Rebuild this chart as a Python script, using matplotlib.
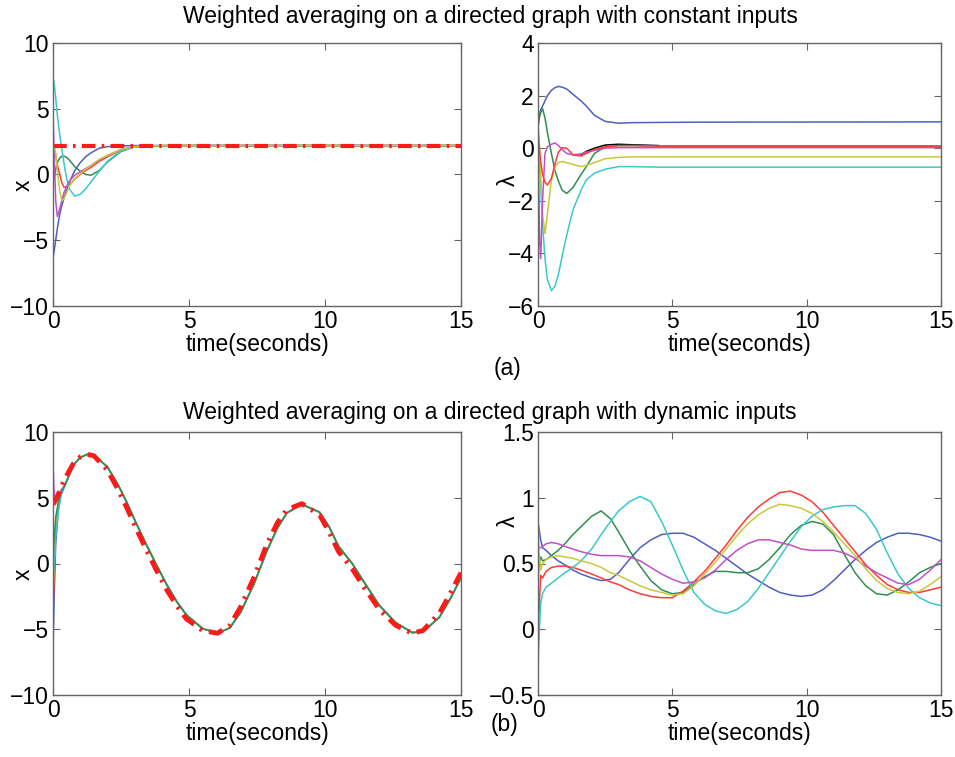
import matplotlib
matplotlib.use("Agg")
import matplotlib.pyplot as plt

plt.rcParams['font.family'] = ['Liberation Sans', 'DejaVu Sans']

# colours of the agents (old matlab default order, a bit washed out)
C_B = '#4f5fbf'
C_G = '#2f8f4f'
C_R = '#ff3b3b'
C_C = '#3cc8c8'
C_M = '#c050c8'
C_Y = '#c8c83c'

# (a) left: x with constant inputs
t_xa = [0, 0.05, 0.1, 0.16, 0.25, 0.32, 0.4, 0.5, 0.6, 0.8, 1.0, 1.2, 1.4, 1.7, 2.0, 2.5, 3.0, 3.5, 4.5, 15]
xa_b = [-6.4, -5.7, -5.0, -4.1, -3.0, -2.4, -1.8, -1.2, -0.6, 0.3, 0.9, 1.35, 1.65, 2.0, 2.12, 2.18, 2.2, 2.2, 2.2, 2.2]
xa_g = [-0.8, -0.2, 0.4, 0.9, 1.25, 1.38, 1.4, 1.3, 1.1, 0.6, 0.25, 0.0, -0.05, 0.3, 0.95, 1.75, 2.1, 2.18, 2.2, 2.2]
xa_r = [2.5, 2.0, 1.5, 0.7, 0.0, -0.6, -0.95, -0.95, -0.8, -0.35, 0.0, 0.3, 0.55, 1.0, 1.35, 1.85, 2.1, 2.18, 2.2, 2.2]
xa_c = [7.4, 6.8, 5.8, 4.5, 3.0, 2.0, 0.9, -0.3, -1.1, -1.65, -1.5, -1.1, -0.55, 0.25, 1.0, 1.8, 2.1, 2.18, 2.2, 2.2]
xa_m = [4.7, 1.0, -2.0, -3.2, -2.6, -2.0, -1.4, -0.9, -0.5, -0.05, 0.2, 0.45, 0.7, 1.1, 1.45, 1.9, 2.12, 2.18, 2.2, 2.2]
xa_y = [2.4, 2.1, 1.6, 0.3, -1.3, -2.0, -1.85, -1.4, -0.9, -0.3, 0.05, 0.4, 0.7, 1.15, 1.45, 1.9, 2.12, 2.18, 2.2, 2.2]
t_xa_ref = [0, 15]
xa_ref = [2.2, 2.2]

# (a) right: lambda with constant inputs
t_la = [0, 0.03, 0.06, 0.1, 0.17, 0.26, 0.35, 0.5, 0.63, 0.76, 0.9, 1.07, 1.3, 1.6, 1.8, 2.1, 2.5, 3.0, 3.5, 4.5, 6, 15]
la_b = [1.0, 1.15, 1.3, 1.45, 1.6, 1.8, 2.0, 2.2, 2.3, 2.35, 2.32, 2.25, 2.05, 1.8, 1.6, 1.25, 1.02, 0.95, 0.97, 0.98, 0.99, 1.0]
la_g = [0.8, 1.0, 1.2, 1.35, 1.5, 1.15, 0.6, -0.2, -0.85, -1.25, -1.6, -1.72, -1.5, -1.0, -0.7, -0.2, 0.05, 0.1, 0.1, 0.08, 0.08, 0.08]
la_r = [0.6, 0.2, -0.1, -0.5, -1.0, -1.3, -1.4, -1.15, -0.6, -0.15, 0.02, 0.0, -0.25, -0.3, -0.2, -0.05, 0.05, 0.1, 0.1, 0.08, 0.08, 0.08]
la_c = [0.5, 0.0, -0.6, -1.5, -2.9, -4.2, -5.0, -5.42, -5.25, -4.8, -4.1, -3.3, -2.35, -1.6, -1.2, -0.95, -0.8, -0.7, -0.7, -0.72, -0.72, -0.72]
la_m = [0.3, -1.5, -3.5, -4.2, -2.0, -0.2, 0.05, 0.15, 0.2, 0.1, -0.05, -0.2, -0.25, -0.22, -0.15, -0.08, 0.0, 0.02, 0.02, 0.02, 0.02, 0.02]
la_y = [0.9, 0.5, 0.0, -1.0, -2.5, -3.25, -2.5, -1.2, -0.7, -0.55, -0.5, -0.55, -0.62, -0.7, -0.65, -0.55, -0.4, -0.35, -0.33, -0.33, -0.33, -0.33]
t_la_k = [1.6, 1.8, 2.1, 2.5, 3.0, 3.5, 4.5]
la_k = [-0.25, -0.12, 0.0, 0.12, 0.15, 0.13, 0.1]

# (b) left: x with dynamic inputs
t_xb = [0, 0.05, 0.1, 0.2, 0.3, 0.45, 0.75, 1.0, 1.25, 1.5, 2.0, 2.4, 2.7, 3.05, 3.44, 3.8, 4.18, 4.55, 4.9, 5.5,
        6.05, 6.5, 6.9, 7.4, 7.85, 8.25, 8.6, 9.15, 9.8, 10.15, 10.5, 11.0, 11.4, 12.0, 12.6, 13.2, 13.6, 14.2, 14.6, 15]
xb_ref = [4.5, 4.65, 4.85, 5.3, 5.8, 6.5, 7.6, 8.1, 8.3, 8.2, 7.1, 5.6, 4.3, 2.7, 1.0, -0.5, -2.0, -3.2, -4.2, -5.1,
          -5.3, -4.7, -3.3, -1.0, 1.4, 3.1, 4.1, 4.55, 3.7, 2.4, 0.9, -0.4, -1.7, -3.5, -4.7, -5.3, -5.1, -3.8, -2.3, -0.7]
# after the first few samples all agents ride on the same track
xb_track = [6.0, 7.5, 8.05, 8.3, 8.25, 7.35, 5.95, 4.7, 3.1, 1.4, -0.1, -1.6, -2.9, -3.9, -4.95,
            -5.3, -4.9, -3.7, -1.5, 0.9, 2.7, 3.85, 4.5, 3.9, 2.8, 1.3, 0.0, -1.3, -3.2, -4.5, -5.25, -5.2, -4.1, -2.7, -1.1]
xb_b = [-6.5, -2.0, 1.5, 4.2, 5.3] + xb_track
xb_g = [0.5, 2.0, 3.5, 4.7, 5.4] + xb_track
xb_r = [-3.5, -0.5, 2.5, 4.5, 5.4] + xb_track
xb_c = [-1.0, 0.0, 2.0, 4.0, 5.2] + xb_track
xb_m = [7.5, 5.0, 4.8, 5.2, 5.6] + xb_track
xb_y = [-2.5, 0.5, 3.0, 4.6, 5.4] + xb_track

# (b) right: lambda with dynamic inputs
t_lb = [0, 0.03, 0.1, 0.17, 0.3, 0.5, 0.75, 1.0, 1.3, 1.6, 2.0, 2.35, 2.7, 3.0, 3.4, 3.8, 4.2, 4.6, 5.0, 5.4, 5.8, 6.2,
        6.6, 7.0, 7.4, 7.8, 8.2, 8.6, 9.0, 9.4, 9.8, 10.2, 10.6, 11.0, 11.4, 11.8, 12.2, 12.6, 13.0, 13.4, 13.8, 14.2, 14.6, 15]
lb_b = [0.8, 0.78, 0.68, 0.62, 0.6, 0.56, 0.52, 0.49, 0.45, 0.42, 0.39, 0.37, 0.38, 0.43, 0.53, 0.62, 0.68, 0.72, 0.73, 0.73, 0.7, 0.65,
        0.6, 0.54, 0.48, 0.42, 0.37, 0.32, 0.28, 0.26, 0.25, 0.26, 0.3, 0.37, 0.45, 0.53, 0.6, 0.66, 0.7, 0.73, 0.73, 0.72, 0.7, 0.67]
lb_g = [0.3, 0.5, 0.55, 0.52, 0.53, 0.56, 0.6, 0.65, 0.72, 0.78, 0.86, 0.9, 0.84, 0.74, 0.6, 0.48, 0.37, 0.3, 0.27, 0.28, 0.34, 0.4,
        0.44, 0.44, 0.43, 0.43, 0.46, 0.53, 0.62, 0.72, 0.79, 0.82, 0.8, 0.72, 0.57, 0.43, 0.33, 0.27, 0.26, 0.3, 0.36, 0.43, 0.47, 0.5]
lb_r = [-0.25, 0.1, 0.41, 0.39, 0.44, 0.47, 0.48, 0.48, 0.47, 0.45, 0.42, 0.39, 0.36, 0.34, 0.3, 0.27, 0.25, 0.24, 0.24, 0.29, 0.36, 0.44,
        0.54, 0.64, 0.75, 0.85, 0.93, 0.99, 1.04, 1.05, 1.02, 0.97, 0.89, 0.79, 0.69, 0.59, 0.49, 0.41, 0.34, 0.3, 0.28, 0.28, 0.3, 0.32]
lb_c = [-0.32, -0.1, 0.2, 0.27, 0.32, 0.35, 0.39, 0.43, 0.47, 0.52, 0.61, 0.72, 0.82, 0.9, 0.97, 1.01, 0.97, 0.82, 0.64, 0.45, 0.28, 0.19,
        0.14, 0.12, 0.15, 0.21, 0.31, 0.43, 0.55, 0.67, 0.78, 0.86, 0.91, 0.93, 0.94, 0.94, 0.88, 0.76, 0.58, 0.42, 0.31, 0.24, 0.2, 0.18]
lb_m = [0.65, 0.62, 0.62, 0.63, 0.65, 0.66, 0.65, 0.63, 0.61, 0.59, 0.57, 0.56, 0.56, 0.56, 0.55, 0.52, 0.47, 0.42, 0.38, 0.35, 0.36, 0.39,
        0.45, 0.53, 0.6, 0.65, 0.68, 0.68, 0.66, 0.64, 0.61, 0.6, 0.6, 0.6, 0.58, 0.54, 0.48, 0.43, 0.39, 0.35, 0.34, 0.38, 0.45, 0.53]
lb_y = [0.92, 0.6, 0.45, 0.5, 0.53, 0.55, 0.56, 0.55, 0.54, 0.52, 0.5, 0.47, 0.43, 0.41, 0.37, 0.33, 0.3, 0.28, 0.26, 0.27, 0.33, 0.42,
        0.51, 0.61, 0.71, 0.8, 0.87, 0.92, 0.95, 0.94, 0.92, 0.88, 0.82, 0.74, 0.65, 0.56, 0.46, 0.37, 0.31, 0.28, 0.27, 0.29, 0.34, 0.4]

xticks = [0, 5, 10, 15]
yt_xa = [-10, -5, 0, 5, 10]
yt_la = [-6, -4, -2, 0, 2, 4]
yt_lb = [-0.5, 0, 0.5, 1, 1.5]
yl_lb = ['\u22120.5', '0', '0.5', '1', '1.5']

FS = 16.5


def setup(ax, ylim, yticks, ylabel, ylab_x, ylab_y, ylabels=None):
    ax.set_xlim(0, 15)
    ax.set_ylim(*ylim)
    ax.set_xticks(xticks)
    ax.set_yticks(yticks)
    if ylabels is not None:
        ax.set_yticklabels(ylabels)
    ax.tick_params(direction='in', top=True, right=True, length=5, width=0.8,
                   color='#666666', labelsize=FS, pad=3)
    for s in ax.spines.values():
        s.set_color('#666666')
        s.set_linewidth(1.0)
    ax.set_xlabel('time(seconds)', fontsize=FS, labelpad=0)
    ax.set_ylabel(ylabel, fontsize=FS)
    ax.yaxis.set_label_coords(ylab_x, ylab_y)


fig = plt.figure(figsize=(9.55, 7.57), dpi=100)
W, H = 955.0, 757.0
ax1 = fig.add_axes([53 / W, 1 - 306 / H, 408 / W, 263 / H])
ax2 = fig.add_axes([538 / W, 1 - 306 / H, 403 / W, 263 / H])
ax3 = fig.add_axes([53 / W, 1 - 695 / H, 408 / W, 263 / H])
ax4 = fig.add_axes([538 / W, 1 - 695 / H, 403 / W, 263 / H])

lw = 1.1
for v, c in [(xa_b, C_B), (xa_g, C_G), (xa_r, C_R), (xa_c, C_C), (xa_m, C_M), (xa_y, C_Y)]:
    ax1.plot(t_xa, v, color=c, lw=lw)
ax1.plot(t_xa_ref, xa_ref, color='#ff1a1a', lw=3, linestyle=(0, (3.3, 1.5, 0.6, 1.5)))
setup(ax1, (-10, 10), yt_xa, 'x', -0.044, 0.46)

ax2.plot(t_la_k, la_k, color='k', lw=lw)
for v, c in [(la_b, C_B), (la_g, C_G), (la_c, C_C), (la_y, C_Y), (la_m, C_M), (la_r, C_R)]:
    ax2.plot(t_la, v, color=c, lw=lw)
setup(ax2, (-6, 4), yt_la, '\u03bb', -0.045, 0.48)

for v, c in [(xb_b, C_B), (xb_r, C_R), (xb_m, C_M), (xb_y, C_Y), (xb_c, C_C), (xb_g, C_G)]:
    ax3.plot(t_xb, v, color=c, lw=lw)
ax3.plot(t_xb, xb_ref, color='#ff1a1a', lw=3.5, linestyle=(0, (3, 1.5, 0.5, 1.5)))
setup(ax3, (-10, 10), yt_xa, 'x', -0.044, 0.46)

for v, c in [(lb_b, C_B), (lb_g, C_G), (lb_r, C_R), (lb_c, C_C), (lb_m, C_M), (lb_y, C_Y)]:
    ax4.plot(t_lb, v, color=c, lw=lw)
setup(ax4, (-0.5, 1.5), yt_lb, '\u03bb', -0.045, 0.66, yl_lb)

fig.text(490 / W, 1 - 16 / H, 'Weighted averaging on a directed graph with constant inputs',
         ha='center', va='center', fontsize=FS)
fig.text(490 / W, 1 - 413 / H, 'Weighted averaging on a directed graph with dynamic inputs',
         ha='center', va='center', fontsize=FS)
fig.text(507 / W, 1 - 368 / H, '(a)', ha='center', va='center', fontsize=FS)
fig.text(505 / W, 1 - 724 / H, '(b)', ha='center', va='center', fontsize=FS)

fig.savefig('out.png', dpi=100)
